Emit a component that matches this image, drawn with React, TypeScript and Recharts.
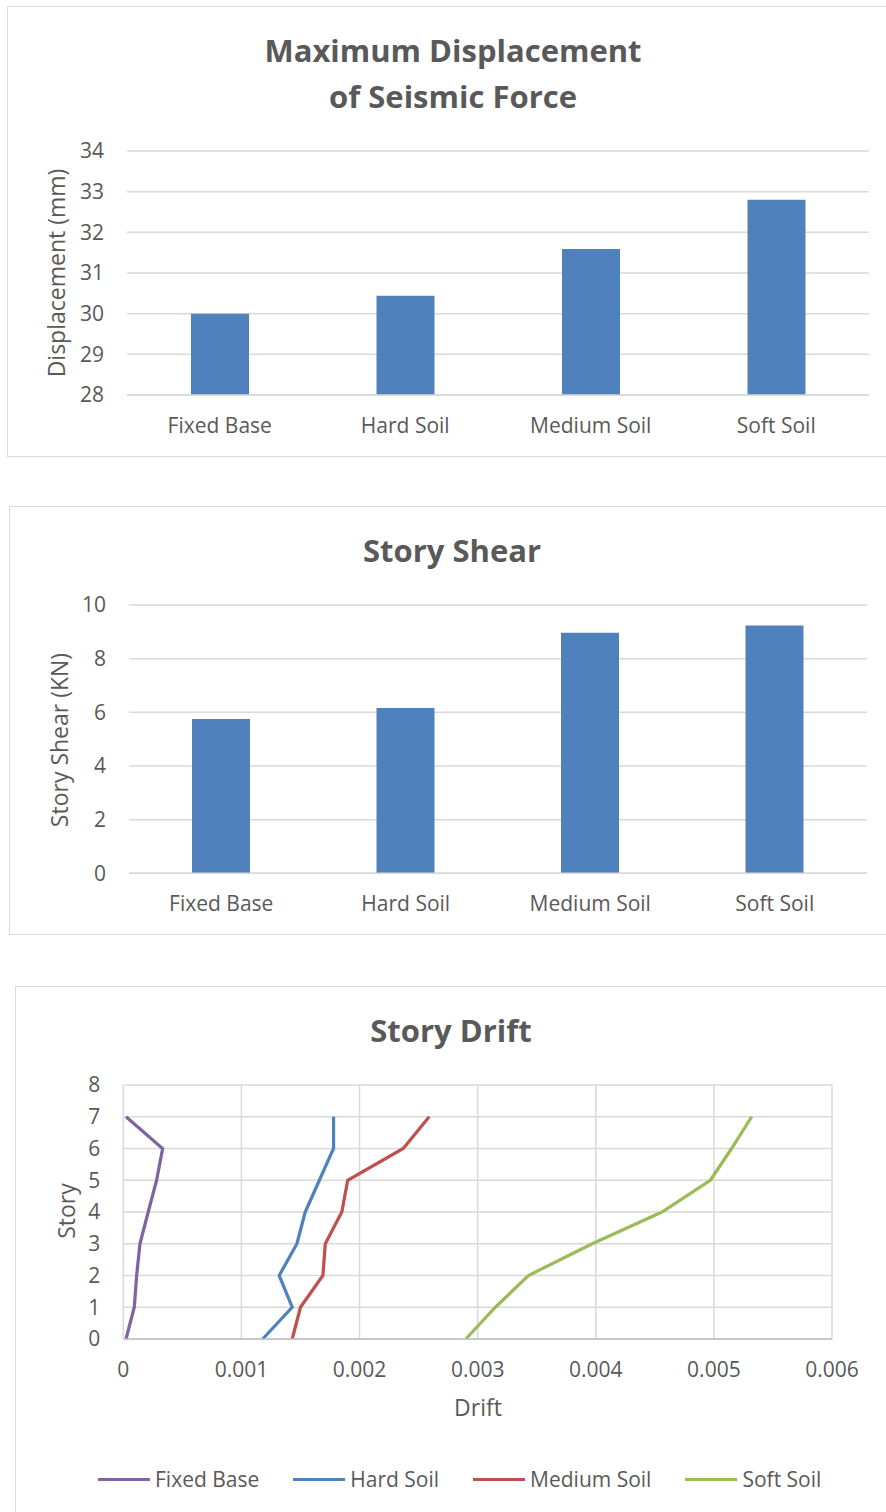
import React from 'react';
import {
  BarChart, Bar, XAxis, YAxis, CartesianGrid, LineChart, Line,
} from 'recharts';

// ---------- data ----------
const categories = ['Fixed Base', 'Hard Soil', 'Medium Soil', 'Soft Soil'];
const maxDisplacement = [30.0, 30.44, 31.59, 32.8];
const storyShear = [5.75, 6.16, 8.97, 9.24];

const displacementTicks = [28, 29, 30, 31, 32, 33, 34];
const shearTicks = [0, 2, 4, 6, 8, 10];

const stories = [0, 1, 2, 3, 4, 5, 6, 7];
const fixedBaseDrift = [0.000023, 0.000093, 0.000113, 0.000141, 0.000211, 0.000282, 0.000333, 0.000023];
const hardSoilDrift = [0.00118, 0.00143, 0.00132, 0.00147, 0.00154, 0.00166, 0.00178, 0.00178];
const mediumSoilDrift = [0.00143, 0.0015, 0.00169, 0.00171, 0.00185, 0.0019, 0.00237, 0.00259];
const softSoilDrift = [0.0029, 0.00315, 0.00343, 0.00397, 0.00456, 0.00497, 0.00515, 0.00532];

const driftTicks = [0, 0.001, 0.002, 0.003, 0.004, 0.005, 0.006];
const storyTicks = [0, 1, 2, 3, 4, 5, 6, 7, 8];

const driftSeries = [
  { name: 'Fixed Base', values: fixedBaseDrift, color: '#8064A2' },
  { name: 'Hard Soil', values: hardSoilDrift, color: '#4F81BD' },
  { name: 'Medium Soil', values: mediumSoilDrift, color: '#C0504D' },
  { name: 'Soft Soil', values: softSoilDrift, color: '#9BBB59' },
];

const dispData = categories.map((name, i) => ({ name, value: maxDisplacement[i] }));
const shearData = categories.map((name, i) => ({ name, value: storyShear[i] }));
const driftData = driftSeries.map((s) => ({
  ...s,
  points: stories.map((st, i) => ({ drift: s.values[i], story: st })),
}));

// ---------- styles ----------
const FONT = '"Open Sans", "Noto Sans", sans-serif';
const TEXT = '#595959';
const GRID = '#d9d9d9';
const BAR = '#4F81BD';
const tick = { fill: TEXT, fontSize: 21, fontFamily: FONT };

function Box({ left, top, width, height }: { left: number; top: number; width: number; height: number }) {
  return (
    <div
      style={{
        position: 'absolute', left, top, width, height,
        border: '1.5px solid #d9d9d9', boxSizing: 'border-box',
      }}
    />
  );
}

function Title({ lines, top, cx }: { lines: string[]; top: number; cx: number }) {
  return (
    <div
      style={{
        position: 'absolute', left: cx, top, transform: 'translateX(-50%)',
        fontFamily: FONT, fontWeight: 700, fontSize: 31, lineHeight: '46px',
        color: TEXT, whiteSpace: 'nowrap', textAlign: 'center',
      }}
    >
      {lines.map((l) => (
        <div key={l}>{l}</div>
      ))}
    </div>
  );
}

function RotLabel({ text, cx, cy }: { text: string; cx: number; cy: number }) {
  return (
    <div
      style={{
        position: 'absolute', left: cx, top: cy,
        transform: 'translate(-50%, -50%) rotate(-90deg)',
        fontFamily: FONT, fontSize: 23, lineHeight: '23px', color: TEXT, whiteSpace: 'nowrap',
      }}
    >
      {text}
    </div>
  );
}

export default function App() {
  return (
    <div
      style={{
        position: 'absolute', left: 0, top: 0, width: 886, height: 1512,
        overflow: 'hidden', background: '#fff', fontFamily: FONT,
      }}
    >
      {/* ---------- Chart 1 ---------- */}
      <Box left={7} top={6} width={900} height={451} />
      <Title lines={['Maximum Displacement', 'of Seismic Force']} top={27} cx={453} />
      <RotLabel text="Displacement (mm)" cx={56} cy={273} />
      <div style={{ position: 'absolute', left: 0, top: 0 }}>
        <BarChart
          width={886}
          height={470}
          data={dispData}
          margin={{ top: 151, right: 17, bottom: 45, left: 77 }}
        >
          <CartesianGrid vertical={false} stroke={GRID} strokeWidth={1.5} />
          <XAxis
            dataKey="name"
            tick={tick}
            tickLine={false}
            tickSize={0}
            tickMargin={23}
            height={30}
            axisLine={{ stroke: GRID, strokeWidth: 1.5 }}
          />
          <YAxis
            type="number"
            domain={[28, 34]}
            ticks={displacementTicks}
            tick={tick}
            tickLine={false}
            tickSize={0}
            tickMargin={23}
            axisLine={false}
            width={50}
            interval={0}
          />
          <Bar dataKey="value" fill={BAR} barSize={58} isAnimationActive={false} />
        </BarChart>
      </div>

      {/* ---------- Chart 2 ---------- */}
      <Box left={9} top={506} width={900} height={429} />
      <Title lines={['Story Shear']} top={527} cx={452} />
      <RotLabel text="Story Shear (KN)" cx={58.5} cy={740} />
      <div style={{ position: 'absolute', left: 0, top: 490 }}>
        <BarChart
          width={886}
          height={460}
          data={shearData}
          margin={{ top: 115, right: 19, bottom: 46.7, left: 79 }}
        >
          <CartesianGrid vertical={false} stroke={GRID} strokeWidth={1.5} />
          <XAxis
            dataKey="name"
            tick={tick}
            tickLine={false}
            tickSize={0}
            tickMargin={23}
            height={30}
            axisLine={{ stroke: GRID, strokeWidth: 1.5 }}
          />
          <YAxis
            type="number"
            domain={[0, 10]}
            ticks={shearTicks}
            tick={tick}
            tickLine={false}
            tickSize={0}
            tickMargin={23}
            axisLine={false}
            width={50}
            interval={0}
          />
          <Bar dataKey="value" fill={BAR} barSize={58} isAnimationActive={false} />
        </BarChart>
      </div>

      {/* ---------- Chart 3 ---------- */}
      <Box left={15} top={986} width={900} height={560} />
      <Title lines={['Story Drift']} top={1007} cx={451} />
      <RotLabel text="Story" cx={65.5} cy={1211} />
      <div style={{ position: 'absolute', left: 0, top: 980 }}>
        <LineChart
          width={886}
          height={532}
          margin={{ top: 105, right: 54, bottom: 143, left: 73.3 }}
        >
          <CartesianGrid stroke={GRID} strokeWidth={1.5} />
          <XAxis
            type="number"
            dataKey="drift"
            domain={[0, 0.006]}
            ticks={driftTicks}
            tickFormatter={(v: number) => String(v)}
            tick={tick}
            tickLine={false}
            tickSize={0}
            tickMargin={23}
            height={30}
            interval={0}
            axisLine={{ stroke: '#bfbfbf', strokeWidth: 1.5 }}
            allowDuplicatedCategory={false}
          />
          <YAxis
            type="number"
            dataKey="story"
            domain={[0, 8]}
            ticks={storyTicks}
            tick={tick}
            tickLine={false}
            tickSize={0}
            tickMargin={23}
            axisLine={false}
            width={50}
            interval={0}
          />
          {driftData.map((s) => (
            <Line
              key={s.name}
              name={s.name}
              data={s.points}
              dataKey="story"
              type="linear"
              stroke={s.color}
              strokeWidth={3.25}
              dot={false}
              activeDot={false}
              isAnimationActive={false}
            />
          ))}
        </LineChart>
      </div>
      <div
        style={{
          position: 'absolute', left: 478, top: 1396, transform: 'translateX(-50%)',
          fontSize: 23, lineHeight: '23px', color: TEXT, fontFamily: FONT,
        }}
      >
        Drift
      </div>
      <div
        style={{
          position: 'absolute', left: 98, top: 1468, display: 'flex', alignItems: 'center',
          gap: 34, fontSize: 21, lineHeight: '22px', color: TEXT, fontFamily: FONT, whiteSpace: 'nowrap',
        }}
      >
        {driftSeries.map((s) => (
          <div key={s.name} style={{ display: 'flex', alignItems: 'center' }}>
            <div style={{ width: 52, height: 3, background: s.color, marginRight: 5 }} />
            <span>{s.name}</span>
          </div>
        ))}
      </div>
    </div>
  );
}
